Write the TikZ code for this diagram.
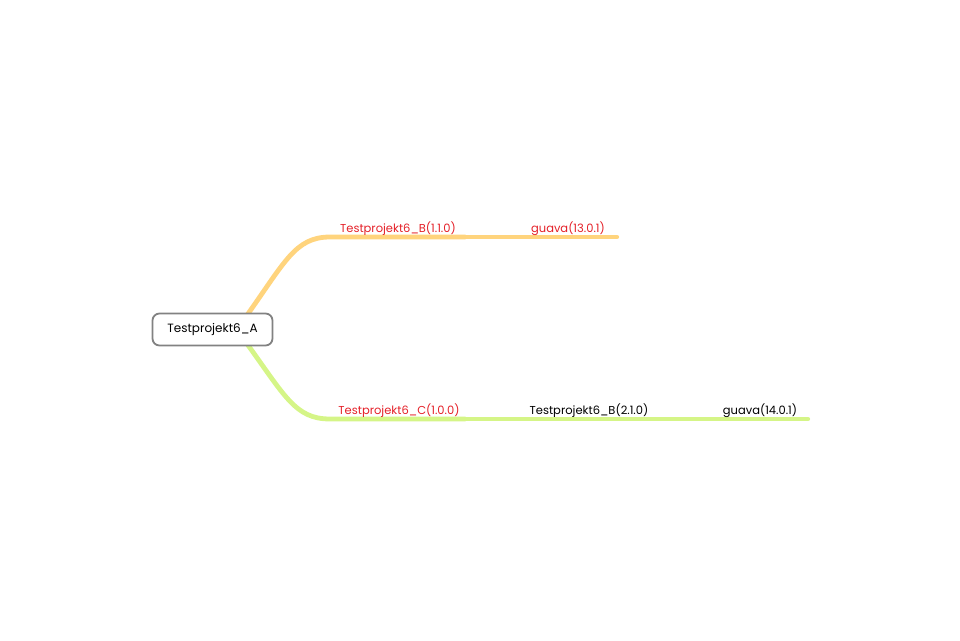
\documentclass[tikz,border=0pt]{standalone}
\usepackage{fontspec}
\setmainfont{Poppins}
\definecolor{orangeline}{RGB}{255,212,125}
\definecolor{greenline}{RGB}{213,245,135}
\definecolor{labelred}{RGB}{228,32,40}
\definecolor{boxgray}{RGB}{130,130,130}
\tikzset{
  branchline/.style={line width=4.8pt, line cap=round},
  lbl/.style={font=\fontsize{11.5}{13}\selectfont, inner sep=0pt, anchor=base},
  redlbl/.style={lbl, text=labelred},
  blacklbl/.style={lbl, text=black},
  rootbox/.style={draw=boxgray, line width=1.8pt, rounded corners=7pt, fill=white,
    minimum width=120pt, minimum height=32pt, font=\fontsize{12}{14}\selectfont}
}
\begin{document}
\begin{tikzpicture}[x=1pt,y=-1pt]
\useasboundingbox (0,0) rectangle (960,640);
\coordinate (rootT) at (245,318);
\coordinate (rootB) at (245,341);
\coordinate (b1s) at (330,237);
\coordinate (b1e) at (465,237);
\coordinate (g1e) at (617,237);
\coordinate (c1s) at (330,419);
\coordinate (c1e) at (465,419);
\coordinate (b2e) at (655,419);
\coordinate (g2e) at (808,419);
\draw[branchline, orangeline] (rootT) .. controls (285,262) and (295,237) .. (b1s) -- (b1e);
\draw[branchline, orangeline, line width=4.2pt] (b1e) -- (g1e);
\draw[branchline, greenline] (rootB) .. controls (285,396) and (295,419) .. (c1s) -- (c1e);
\draw[branchline, greenline, line width=4.2pt] (c1e) -- (b2e);
\draw[branchline, greenline, line width=4.2pt] (b2e) -- (g2e);
\node[rootbox] (root) at (212.5,329.5) {Testprojekt6\_A};
\node[redlbl] (tb1) at (398,232) {Testprojekt6\_B(1.1.0)};
\node[redlbl] (tg1) at (568,232) {guava(13.0.1)};
\node[redlbl] (tc1) at (399,414) {Testprojekt6\_C(1.0.0)};
\node[blacklbl] (tb2) at (589,414) {Testprojekt6\_B(2.1.0)};
\node[blacklbl] (tg2) at (760,414) {guava(14.0.1)};
\end{tikzpicture}
\end{document}
